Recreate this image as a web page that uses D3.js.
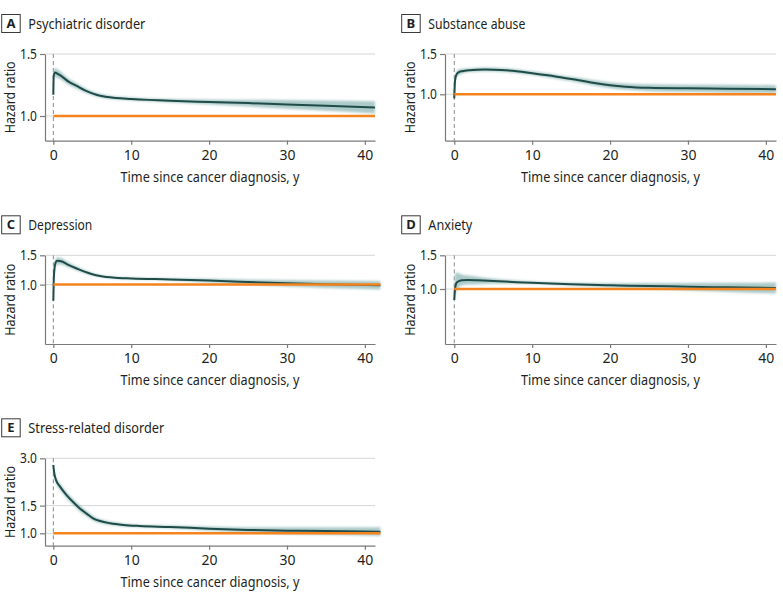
<!DOCTYPE html>
<html>
<head>
<meta charset="utf-8">
<script src="https://cdn.jsdelivr.net/npm/d3@7"></script>
<style>
  html, body { margin: 0; padding: 0; background: #fff; }
  svg { display: block; }
  text { font-family: "Noto Sans", "Open Sans", sans-serif; fill: #231f20; }
</style>
</head>
<body>
<svg id="chart" width="783" height="602"></svg>
<script>
// ---------- DATA ----------
const panelLetters = ["A", "B", "C", "D", "E"];
const panelTitles = ["Psychiatric disorder", "Substance abuse", "Depression", "Anxiety", "Stress-related disorder"];
const xTickValues = [0, 10, 20, 30, 40];
const xAxisTitle = "Time since cancer diagnosis, y";
const yAxisTitle = "Hazard ratio";
const yTicksA = [1.0, 1.5];
const yTicksB = [1.0, 1.5];
const yTicksC = [1.0, 1.5];
const yTicksD = [1.0, 1.5];
const yTicksE = [1.0, 1.5, 3.0];

// A: Psychiatric disorder
const timeA = [0, 0.05, 0.2, 0.5, 1, 2, 3, 4, 5, 6, 7, 8, 10, 15, 20, 25, 30, 35, 41.3];
const hrA   = [1.15, 1.30, 1.33, 1.32, 1.30, 1.25, 1.217, 1.185, 1.16, 1.142, 1.132, 1.125, 1.118, 1.105, 1.096, 1.088, 1.079, 1.07, 1.058];
const loA   = [1.116, 1.262, 1.291, 1.284, 1.268, 1.225, 1.195, 1.167, 1.145, 1.128, 1.120, 1.114, 1.107, 1.092, 1.079, 1.064, 1.049, 1.035, 1.017];
const hiA   = [1.185, 1.340, 1.371, 1.357, 1.333, 1.275, 1.239, 1.203, 1.175, 1.156, 1.145, 1.136, 1.129, 1.118, 1.114, 1.112, 1.110, 1.106, 1.101];

// B: Substance abuse
const timeB = [0, 0.1, 0.3, 0.6, 1, 2, 3, 4, 6, 8, 10, 12, 14, 16, 18, 20, 22, 25, 30, 35, 41.3];
const hrB   = [0.96, 1.15, 1.225, 1.25, 1.262, 1.275, 1.28, 1.282, 1.277, 1.262, 1.237, 1.21, 1.18, 1.152, 1.12, 1.096, 1.08, 1.068, 1.062, 1.058, 1.052];
const loB   = [0.932, 1.116, 1.189, 1.213, 1.231, 1.250, 1.255, 1.257, 1.252, 1.237, 1.213, 1.184, 1.154, 1.124, 1.089, 1.064, 1.046, 1.031, 1.023, 1.017, 1.011];
const hiB   = [0.989, 1.185, 1.262, 1.288, 1.294, 1.301, 1.306, 1.308, 1.303, 1.287, 1.262, 1.237, 1.206, 1.181, 1.152, 1.129, 1.115, 1.106, 1.102, 1.101, 1.095];

// C: Depression
const timeC = [0, 0.05, 0.15, 0.3, 0.5, 1, 2, 3, 4, 5, 6, 8, 10, 15, 20, 25, 30, 35, 42];
const hrC   = [0.80, 1.05, 1.25, 1.36, 1.39, 1.38, 1.31, 1.25, 1.196, 1.155, 1.127, 1.10, 1.09, 1.075, 1.057, 1.038, 1.019, 1.005, 0.992];
const loC   = [0.761, 0.999, 1.189, 1.294, 1.322, 1.319, 1.265, 1.215, 1.170, 1.134, 1.110, 1.086, 1.076, 1.058, 1.031, 1.002, 0.974, 0.954, 0.934];
const hiC   = [0.841, 1.104, 1.314, 1.430, 1.461, 1.444, 1.357, 1.286, 1.223, 1.176, 1.144, 1.114, 1.104, 1.092, 1.084, 1.075, 1.066, 1.059, 1.053];

// D: Anxiety
const timeD = [0, 0.1, 0.3, 0.6, 1, 1.8, 3, 5, 8, 10, 15, 20, 25, 30, 35, 41.3];
const hrD   = [0.876, 1.0, 1.079, 1.10, 1.112, 1.115, 1.11, 1.10, 1.086, 1.079, 1.058, 1.045, 1.037, 1.028, 1.02, 1.012];
const loD   = [0.84, 0.92, 0.98, 1.02, 1.045, 1.055, 1.06, 1.065, 1.064, 1.062, 1.039, 1.019, 1.001, 0.983, 0.966, 0.948];
const hiD   = [0.91, 1.20, 1.22, 1.21, 1.19, 1.175, 1.16, 1.135, 1.108, 1.096, 1.077, 1.071, 1.074, 1.075, 1.077, 1.080];

// E: Stress-related disorder
const timeE = [0, 0.1, 0.35, 0.86, 1.7, 2.57, 3.4, 4.3, 5.1, 6, 7.3, 9, 11.1, 15, 20, 25, 30, 35, 42];
const hrE   = [2.72, 2.45, 2.18, 1.98, 1.75, 1.575, 1.44, 1.33, 1.246, 1.197, 1.158, 1.13, 1.113, 1.097, 1.07, 1.05, 1.039, 1.035, 1.024];
const loE   = [2.613, 2.354, 2.084, 1.893, 1.673, 1.506, 1.377, 1.278, 1.203, 1.162, 1.129, 1.105, 1.091, 1.073, 1.038, 1.009, 0.988, 0.980, 0.961];
const hiE   = [2.831, 2.550, 2.280, 2.071, 1.831, 1.648, 1.506, 1.384, 1.290, 1.233, 1.187, 1.155, 1.135, 1.121, 1.103, 1.093, 1.092, 1.094, 1.091];

// ---------- LAYOUT ----------
const series = [
  {t: timeA, hr: hrA, lo: loA, hi: hiA, ticks: yTicksA, yMin: 0.851, yMax: 1.5},
  {t: timeB, hr: hrB, lo: loB, hi: hiB, ticks: yTicksB, yMin: 0.627, yMax: 1.5},
  {t: timeC, hr: hrC, lo: loC, hi: hiC, ticks: yTicksC, yMin: 0.44,  yMax: 1.5},
  {t: timeD, hr: hrD, lo: loD, hi: hiD, ticks: yTicksD, yMin: 0.516, yMax: 1.5},
  {t: timeE, hr: hrE, lo: loE, hi: hiE, ticks: yTicksE, yMin: 0.834, yMax: 3.0}
];
const layout = [
  {left: 45,  right: 375, top: 54,    bottom: 140.7, xMin: -1.07},
  {left: 445, right: 776, top: 54,    bottom: 140.7, xMin: -1.19},
  {left: 45,  right: 375, top: 255.3, bottom: 344,   xMin: -1.07},
  {left: 445, right: 776, top: 255.3, bottom: 344,   xMin: -1.19},
  {left: 45,  right: 375, top: 458.3, bottom: 545.7, xMin: -1.07}
];
const titleWidths = [117, 97, 64, 44, 136];

const svg = d3.select("#chart");
const defs = svg.append("defs");
defs.append("filter").attr("id", "soft")
  .attr("x", "-5%").attr("y", "-20%").attr("width", "110%").attr("height", "140%")
  .append("feGaussianBlur").attr("stdDeviation", 0.8);

const fmt = d3.format(".1f");

series.forEach((s, i) => {
  const L = layout[i];
  const g = svg.append("g");
  const x = d3.scaleLinear().domain([L.xMin, 41.3]).range([L.left, L.right]);
  const y = d3.scaleLog().domain([s.yMin, s.yMax]).range([L.bottom, L.top]);

  // gridlines
  g.append("g").selectAll("line").data(s.ticks).join("line")
    .attr("x1", L.left).attr("x2", L.right)
    .attr("y1", d => y(d)).attr("y2", d => y(d))
    .attr("stroke", "#d6d6d6").attr("stroke-width", 1);

  // dashed line at time 0
  g.append("line")
    .attr("x1", x(0)).attr("x2", x(0))
    .attr("y1", L.top).attr("y2", L.bottom)
    .attr("stroke", "#8a8a8a").attr("stroke-width", 1)
    .attr("stroke-dasharray", "4,3");

  const pts = s.t.map((t, k) => ({t, hr: s.hr[k], lo: s.lo[k], hi: s.hi[k]}));

  // CI band
  const area = d3.area().x(d => x(d.t)).y0(d => y(d.lo)).y1(d => y(d.hi))
    .curve(d3.curveMonotoneX);
  g.append("path").datum(pts).attr("d", area)
    .attr("fill", "#9dc1c0").attr("fill-opacity", 0.85)
    .attr("filter", "url(#soft)");

  // HR curve
  const line = d3.line().x(d => x(d.t)).y(d => y(d.hr)).curve(d3.curveMonotoneX);
  g.append("path").datum(pts).attr("d", line)
    .attr("fill", "none").attr("stroke", "#1f4c49").attr("stroke-width", 2)
    .attr("stroke-linejoin", "round");

  // reference line HR = 1
  g.append("line")
    .attr("x1", x(0)).attr("x2", x(d3.max(s.t)))
    .attr("y1", y(1)).attr("y2", y(1))
    .attr("stroke", "#f5841f").attr("stroke-width", 2.5);

  // axes
  const yAxis = d3.axisLeft(y).tickValues(s.ticks).tickFormat(fmt)
    .tickSize(5).tickSizeOuter(0).tickPadding(3);
  const ya = g.append("g").attr("transform", `translate(${L.left},0)`).call(yAxis);
  const xAxis = d3.axisBottom(x).tickValues(xTickValues).tickFormat(d3.format("d"))
    .tickSize(4).tickSizeOuter(0).tickPadding(5);
  const xa = g.append("g").attr("transform", `translate(0,${L.bottom})`).call(xAxis);
  [ya, xa].forEach(a => {
    a.select(".domain").attr("stroke", "#7a7a7a").attr("stroke-width", 1.2);
    a.selectAll(".tick line").attr("stroke", "#7a7a7a").attr("stroke-width", 1.2);
    a.selectAll(".tick text").attr("font-size", 14)
      .attr("font-family", "Noto Sans, sans-serif").attr("fill", "#231f20");
  });
  ya.selectAll(".tick text").attr("textLength", 17).attr("lengthAdjust", "spacingAndGlyphs");

  // x axis title
  g.append("text")
    .attr("x", (L.left + L.right) / 2).attr("y", L.bottom + 41)
    .attr("text-anchor", "middle").attr("font-size", 14.5)
    .attr("textLength", 179).attr("lengthAdjust", "spacingAndGlyphs")
    .text(xAxisTitle);

  // y axis title
  g.append("text")
    .attr("transform", `translate(${L.left - 30},${(L.top + L.bottom) / 2}) rotate(-90)`)
    .attr("text-anchor", "middle").attr("font-size", 14)
    .attr("textLength", 72).attr("lengthAdjust", "spacingAndGlyphs")
    .text(yAxisTitle);

  // panel label box + title
  const base = L.top - 25.5;
  const bx = L.left - 43.3;
  g.append("rect")
    .attr("x", bx).attr("y", base - 14).attr("width", 18.5).attr("height", 18)
    .attr("fill", "#fff").attr("stroke", "#3a3a3a").attr("stroke-width", 1);
  g.append("text")
    .attr("x", bx + 9.25).attr("y", base - 0.5)
    .attr("text-anchor", "middle").attr("font-size", 13).attr("font-weight", "bold")
    .text(panelLetters[i]);
  g.append("text")
    .attr("x", bx + 26.6).attr("y", base)
    .attr("font-size", 14.5)
    .attr("textLength", titleWidths[i]).attr("lengthAdjust", "spacingAndGlyphs")
    .text(panelTitles[i]);
});
</script>
</body>
</html>
